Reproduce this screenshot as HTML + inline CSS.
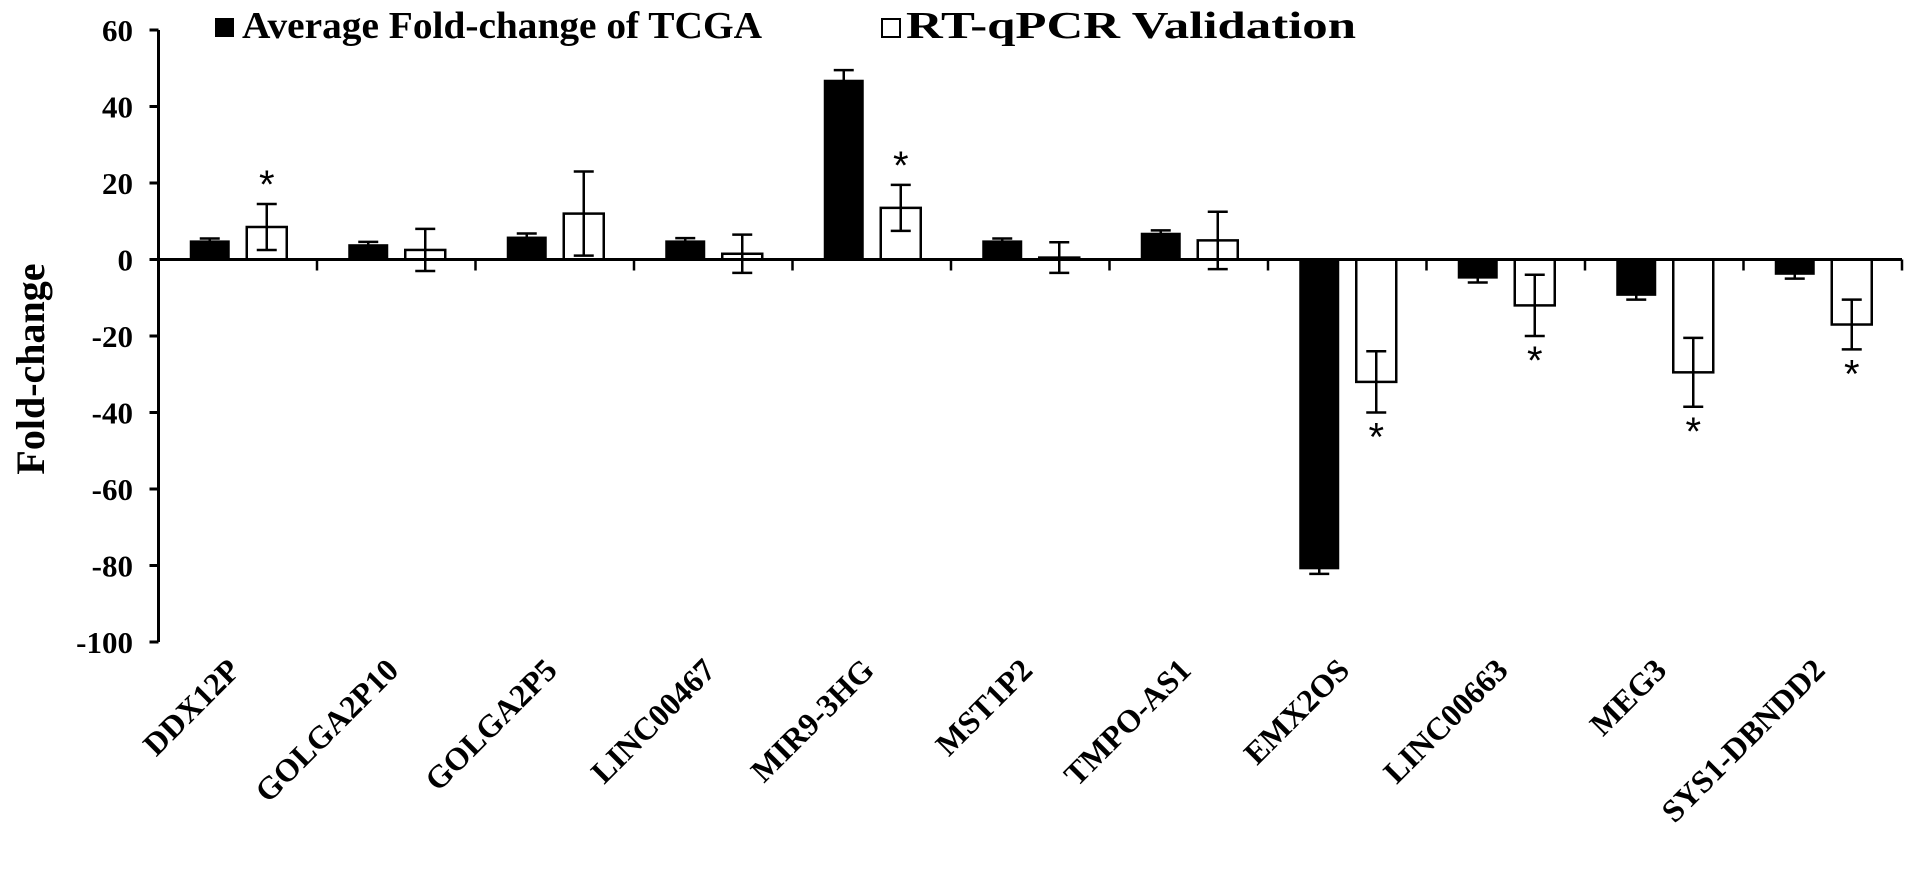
<!DOCTYPE html>
<html><head><meta charset="utf-8"><style>
html,body{margin:0;padding:0;background:#fff;}
svg{display:block;font-family:"Liberation Serif",serif;font-weight:bold;}
</style></head><body>
<svg id="chart" width="1913" height="886" viewBox="0 0 1913 886">
<g id="legend">
  <rect x="215" y="18" width="19" height="19" fill="#000"/>
  <text x="242" y="38" font-size="38" textLength="520" lengthAdjust="spacingAndGlyphs">Average Fold-change of TCGA</text>
  <rect x="882" y="19" width="18" height="18" fill="#fff" stroke="#000" stroke-width="2"/>
  <text x="906" y="38" font-size="38" textLength="450" lengthAdjust="spacingAndGlyphs">RT-qPCR Validation</text>
</g>
<text transform="translate(44,369) rotate(-90)" text-anchor="middle" font-size="40">Fold-change</text>
<g id="plot"></g>
</svg>
<script>
const categories = ["DDX12P","GOLGA2P10","GOLGA2P5","LINC00467","MIR9-3HG","MST1P2","TMPO-AS1","EMX2OS","LINC00663","MEG3","SYS1-DBNDD2"];
const tcgaValues = [5,4,6,5,47,5,7,-81,-5,-9.5,-4];
const tcgaErrors = [0.5,0.6,0.8,0.6,2.5,0.5,0.6,1.2,1,1,1];
const qpcrValues = [8.5,2.5,12,1.5,13.5,0.5,5,-32,-12,-29.5,-17];
const qpcrErrors = [6,5.5,11,5,6,4,7.5,8,8,9,6.5];
const significant = [true,false,false,false,true,false,false,true,true,true,true];
const yTicks = [60,40,20,0,-20,-40,-60,-80,-100];

const NS = "http://www.w3.org/2000/svg";
const plot = document.getElementById("plot");
const x0 = 158.5, band = 158.5, axisEnd = x0 + band * categories.length;
function yScale(v){ return 259.5 - v * 3.825; }
function xCenter(i){ return x0 + band * (i + 0.5); }
function mk(tag, attrs){ const e = document.createElementNS(NS, tag); for (const k in attrs) e.setAttribute(k, attrs[k]); plot.appendChild(e); return e; }

let a = mk("line", {x1:x0, y1:yScale(60), x2:x0, y2:yScale(-100), stroke:"#000", "stroke-width":3});


yTicks.forEach(t => {
  const tk = mk("line", {x1:x0-9, y1:yScale(t), x2:x0, y2:yScale(t), stroke:"#000", "stroke-width":3});
  
  
  const lb = mk("text", {x:133, y:yScale(t)+11, "text-anchor":"end", "font-size":31});
  lb.textContent = t;
  
  
});

const bw = 40;
function errBar(cx, v, e, name){
  const g = mk("g", {stroke:"#000", "stroke-width":2.5});
  
  
  const lo = yScale(v - e), hi = yScale(v + e);
  [[cx,hi,cx,lo],[cx-10,hi,cx+10,hi],[cx-10,lo,cx+10,lo]].forEach(c => {
    const l = document.createElementNS(NS, "line");
    l.setAttribute("x1", c[0]); l.setAttribute("y1", c[1]); l.setAttribute("x2", c[2]); l.setAttribute("y2", c[3]);
    g.appendChild(l);
  });
}
categories.forEach((c, i) => {
  const cx = xCenter(i);
  const bx = cx - 28, wx = cx + 29;
  const tv = tcgaValues[i], qv = qpcrValues[i];
  const b = mk("rect", {x:bx-bw/2, y:Math.min(yScale(0), yScale(tv)), width:bw, height:Math.abs(yScale(tv)-yScale(0)), fill:"#000"});
  
  
  errBar(bx, tv, tcgaErrors[i], 'error-bar-tcga');
  const w = mk("rect", {x:wx-bw/2, y:Math.min(yScale(0), yScale(qv)), width:bw, height:Math.abs(yScale(qv)-yScale(0)), fill:"#fff", stroke:"#000", "stroke-width":2.5});
  
  
  errBar(wx, qv, qpcrErrors[i], 'error-bar-qpcr');
  if (significant[i]) {
    const sy = qv >= 0 ? yScale(qv + qpcrErrors[i]) - 6 : yScale(qv - qpcrErrors[i]) + 38;
    const s = mk("text", {x:wx, y:sy, "text-anchor":"middle", "font-size":40, "font-weight":"normal", "font-family":"Liberation Sans, sans-serif"});
    s.textContent = "*";
    
    
  }
  const lb = mk("text", {transform:`translate(${cx+4},672) rotate(-45)`, "text-anchor":"end", "font-size":32});
  lb.textContent = c;
  
  
});
const xa = mk("line", {x1:x0, y1:yScale(0), x2:axisEnd, y2:yScale(0), stroke:"#000", "stroke-width":3});


for (let i = 1; i <= categories.length; i++) {
  const tk = mk("line", {x1:x0+band*i, y1:yScale(0), x2:x0+band*i, y2:yScale(0)+11, stroke:"#000", "stroke-width":2.5});
  
  
}
</script>
</body></html>
